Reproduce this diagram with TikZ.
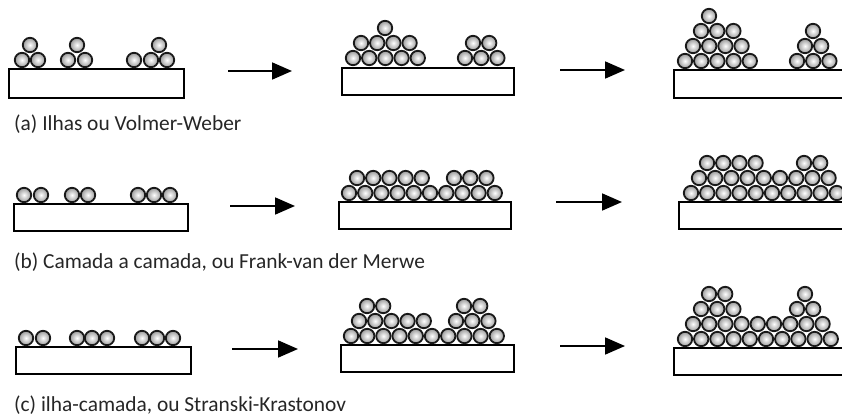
\documentclass[tikz,border=0pt]{standalone}
\usepackage{fontspec}
\setmainfont{Carlito}
\usetikzlibrary{arrows.meta}
\tikzset{
  atom/.style={draw=black!90, line width=1.8pt, inner color=white, outer color=gray!80},
  substrate/.style={draw=black, line width=1.8pt, inner sep=0pt, anchor=north west, fill=white},
  growarrow/.style={line width=1.8pt, -{Triangle[length=20pt,width=17pt]}},
  lbl/.style={anchor=west, inner sep=0pt, font=\fontsize{21.4pt}{24pt}\selectfont, text=black!85}
}
\newcommand{\arow}[3]{\foreach \k in {1,...,#3}{\shade[atom] ({#2+(\k-1)*16.2},#1) circle (7.2pt);}}
\newcommand{\sub}[5]{\node[substrate, minimum width=#4pt-#2pt, minimum height=#5pt-#3pt] (#1) at (#2,#3) {};}
\begin{document}
\begin{tikzpicture}[x=1pt,y=-1pt]
\useasboundingbox (0,0) rectangle (842,417);
% ---------- row (a)
\sub{sa1}{8}{68}{183}{97}
\foreach \x in {22,38,68,85,134,151,167} \shade[atom] (\x,60) circle (7.2pt);
\foreach \x in {30,77,159} \shade[atom] (\x,45) circle (7.2pt);
\sub{sa2}{341}{67}{513}{94}
\arow{58}{353}{5}\arow{58}{465}{3}
\arow{43}{361}{4}\arow{43}{473}{2}
\arow{28}{385}{1}
\sub{sa3}{673}{69}{848}{97}
\arow{61}{685}{5}\arow{61}{797}{3}
\arow{46}{693}{4}\arow{46}{805}{2}
\arow{31}{701}{3}\arow{31}{813}{1}
\arow{16}{709}{1}
\coordinate (pa1s) at (228,71); \coordinate (pa1e) at (292,71);
\coordinate (pa2s) at (560,70); \coordinate (pa2e) at (625,70);
\draw[growarrow] (pa1s) -- (pa1e);
\draw[growarrow] (pa2s) -- (pa2e);
\node[lbl] (la) at (14,124) {(a) Ilhas ou Volmer-Weber};
% ---------- row (b)
\sub{sb1}{13}{203}{187}{230}
\foreach \x in {24,41,72,88,138,154,170} \shade[atom] (\x,195) circle (7.2pt);
\sub{sb2}{338}{201}{510}{228}
\arow{193}{349}{10}
\arow{178}{357}{5}\arow{178}{454}{3}
\sub{sb3}{678}{201}{848}{228}
\arow{193}{691}{10}
\arow{178}{699}{9}
\arow{163}{707}{4}\arow{163}{804}{2}
\coordinate (pb1s) at (230,206); \coordinate (pb1e) at (295,206);
\coordinate (pb2s) at (556,202); \coordinate (pb2e) at (622,202);
\draw[growarrow] (pb1s) -- (pb1e);
\draw[growarrow] (pb2s) -- (pb2e);
\node[lbl] (lb) at (14,262) {(b) Camada a camada, ou Frank-van der Merwe};
% ---------- row (c)
\sub{sc1}{15}{346}{190}{373}
\foreach \x in {26,43,77,92,107,142,157,173} \shade[atom] (\x,338) circle (7.2pt);
\sub{sc2}{340}{344}{513}{371}
\arow{336}{351}{10}
\arow{321}{359}{5}\arow{321}{456}{3}
\arow{306}{367}{2}\arow{306}{464}{2}
\sub{sc3}{673}{347}{848}{374}
\arow{339}{685}{10}
\arow{324}{693}{9}
\arow{309}{701}{3}\arow{309}{797}{2}
\arow{294}{709}{2}\arow{294}{805}{1}
\coordinate (pc1s) at (232,349); \coordinate (pc1e) at (298,349);
\coordinate (pc2s) at (560,346); \coordinate (pc2e) at (625,346);
\draw[growarrow] (pc1s) -- (pc1e);
\draw[growarrow] (pc2s) -- (pc2e);
\node[lbl] (lc) at (14,405) {(c) ilha-camada, ou Stranski-Krastonov};
\end{tikzpicture}
\end{document}
